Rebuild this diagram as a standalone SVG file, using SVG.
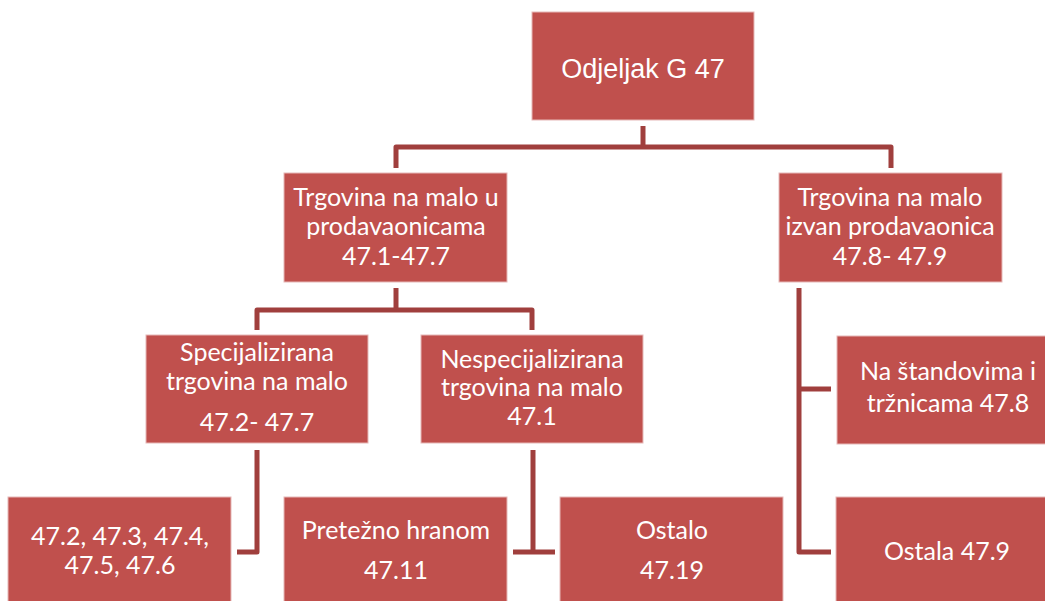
<svg xmlns="http://www.w3.org/2000/svg" width="1045" height="601" viewBox="0 0 1045 601">
<style>
.box{fill:#C0504D;stroke:#E6B8B7;stroke-width:1}
.t{font-family:Lato,"Open Sans","Liberation Sans",sans-serif;font-size:25px;fill:#FFFFFF;text-anchor:middle}
.ta{font-family:"Liberation Sans",Arial,sans-serif;font-size:27px;fill:#FFFFFF;text-anchor:middle}
.c{fill:none;stroke:#A03F3D;stroke-width:5;stroke-linejoin:round}
</style>
<rect width="1045" height="601" fill="#FFFFFF"/>
<g id="connectors">
<path class="c" d="M643,126 V147"/>
<path class="c" d="M396,168 V147 H891 V168"/>
<path class="c" d="M396,288 V310"/>
<path class="c" d="M257,330 V310 H532 V330"/>
<path class="c" d="M257,450 V552 H237"/>
<path class="c" d="M533,450 V552"/>
<path class="c" d="M513,552 H555"/>
<path class="c" d="M799,288 V552 H831"/>
<path class="c" d="M799,389 H831"/>
</g>
<g id="n-root">
<rect class="box" x="532" y="12" width="222" height="108"/>
<text class="ta" x="643" y="78">Odjeljak G 47</text>
</g>
<g id="n-prodavaonice">
<rect class="box" x="284" y="173" width="223" height="109"/>
<text class="t" x="396" y="206">Trgovina na malo u</text>
<text class="t" x="396" y="235">prodavaonicama</text>
<text class="t" x="396" y="265">47.1-47.7</text>
</g>
<g id="n-izvan">
<rect class="box" x="779" y="173" width="223" height="109"/>
<text class="t" x="890" y="206">Trgovina na malo</text>
<text class="t" x="890" y="235">izvan prodavaonica</text>
<text class="t" x="890" y="265">47.8- 47.9</text>
</g>
<g id="n-specijalizirana">
<rect class="box" x="146" y="335" width="222" height="108"/>
<text class="t" x="257" y="361">Specijalizirana</text>
<text class="t" x="257" y="390">trgovina na malo</text>
<text class="t" x="257" y="431">47.2- 47.7</text>
</g>
<g id="n-nespecijalizirana">
<rect class="box" x="421" y="335" width="222" height="108"/>
<text class="t" x="532" y="368">Nespecijalizirana</text>
<text class="t" x="532" y="396">trgovina na malo</text>
<text class="t" x="532" y="425">47.1</text>
</g>
<g id="n-standovi">
<rect class="box" x="837" y="336" width="223" height="108"/>
<text class="t" x="948" y="380">Na štandovima i</text>
<text class="t" x="948" y="412">tržnicama 47.8</text>
</g>
<g id="n-472">
<rect class="box" x="8" y="497" width="223" height="110"/>
<text class="t" x="120" y="545">47.2, 47.3, 47.4,</text>
<text class="t" x="120" y="574">47.5, 47.6</text>
</g>
<g id="n-4711">
<rect class="box" x="284" y="497" width="223" height="110"/>
<text class="t" x="396" y="539">Pretežno hranom</text>
<text class="t" x="396" y="579">47.11</text>
</g>
<g id="n-4719">
<rect class="box" x="560" y="497" width="223" height="110"/>
<text class="t" x="672" y="539">Ostalo</text>
<text class="t" x="672" y="579">47.19</text>
</g>
<g id="n-479">
<rect class="box" x="836" y="497" width="223" height="110"/>
<text class="t" x="947" y="560">Ostala 47.9</text>
</g>
</svg>
